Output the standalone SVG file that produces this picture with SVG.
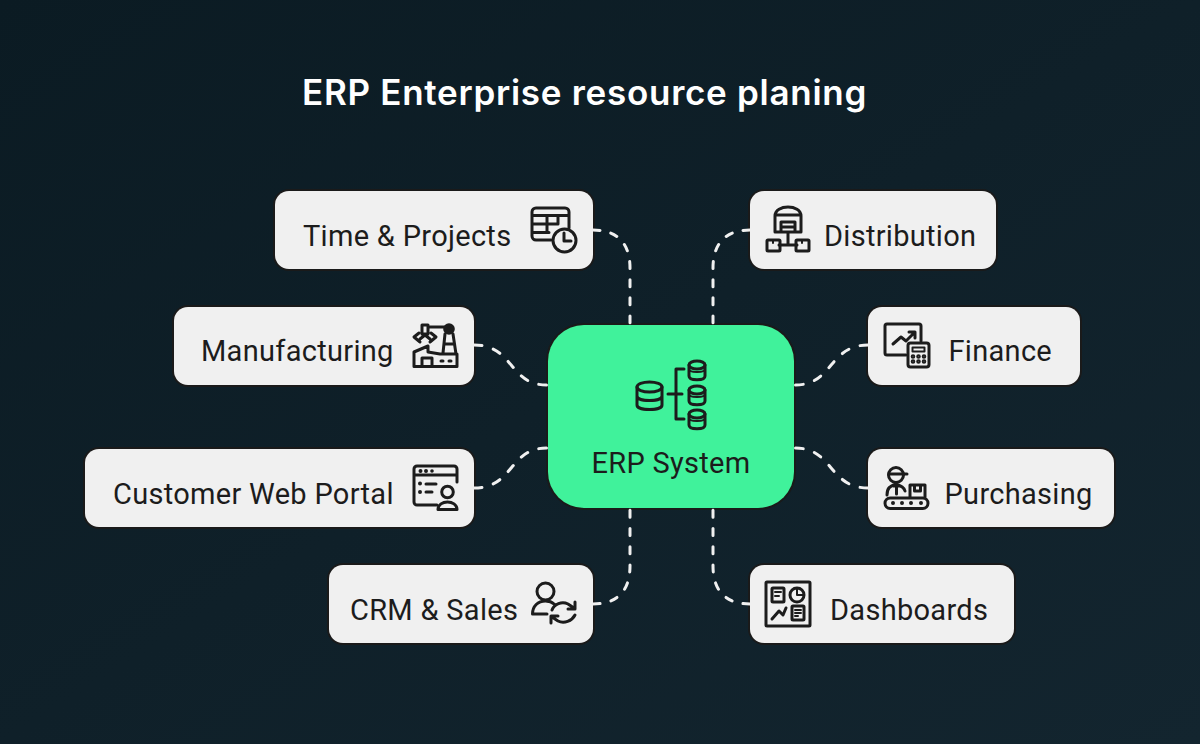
<svg xmlns="http://www.w3.org/2000/svg" width="1200" height="744" viewBox="0 0 1200 744">
<defs>
<linearGradient id="bg" x1="0" y1="0" x2="1" y2="1"><stop offset="0" stop-color="#0b1b23"/><stop offset="1" stop-color="#13252f"/></linearGradient>
<style>
.box{fill:#f0f0f0;stroke:#1a1a1a;stroke-width:4;paint-order:stroke}
.lbl{font-family:Roboto,"Liberation Sans",sans-serif;font-size:29px;fill:#1c1c1c;letter-spacing:.3px}
.c{fill:none;stroke:#f0f0f0;stroke-width:3;stroke-linecap:round}
.l{stroke-dasharray:7 11.300}
.s{stroke-dasharray:8 11.800}
.i{fill:none;stroke:#1c1c1c;stroke-width:3;stroke-linecap:round;stroke-linejoin:round}
.t{stroke-width:2}
.f{fill:#1c1c1c;stroke:none}
</style>
</defs>
<rect width="1200" height="744" fill="url(#bg)"/>
<text id="title" x="302" y="104.500" font-family="Inter,'Open Sans',sans-serif" font-weight="600" font-size="35" letter-spacing=".72" fill="#fff">ERP Enterprise resource planing</text>
<g id="node-time">
<rect class="box" x="275" y="191" width="318" height="78" rx="14"/>
<text class="lbl" x="303" y="246">Time &amp; Projects</text>
<path class="i" d="M551 240H536a4 4 0 0 1-4-4V212a4 4 0 0 1 4-4H565a4 4 0 0 1 4 4V228M532 215.500H569M532 224H558M532 232.500H549M547 215.500V232M558 215.500V224"/>
<circle class="i" cx="564.500" cy="240.500" r="11.500"/><path class="i" d="M564 233V241H571"/>
</g>
<g id="node-manufacturing">
<rect class="box" x="174" y="307" width="300" height="78" rx="14"/>
<text class="lbl" x="201" y="361">Manufacturing</text>
<circle class="f" cx="449" cy="329" r="5.800"/>
<path class="i" d="M430 327H449M422 325H428V334H422ZM419 333L414 337L420 342M431 333L436 337L430 342M425 335L420 339M425 335L430 339M445 334L443 353M453 334L456 354M444 344H454M414 366.500V352L428 346V352L440 354H457V366.500ZM422 366.500V358H432V366.500"/>
<path class="i" stroke-width="2.500" d="M441 361H443M449 361H451"/>
</g>
<g id="node-portal">
<rect class="box" x="85" y="449" width="389" height="78" rx="14"/>
<text class="lbl" x="113" y="504">Customer Web Portal</text>
<path class="i" d="M457 482V469a3 3 0 0 0-3-3H417a3 3 0 0 0-3 3V502a3 3 0 0 0 3 3H437M414 475H457M426 484H436M426 492H432"/>
<g class="i t"><circle cx="420.500" cy="471" r="1"/><circle cx="426" cy="471" r="1"/><circle cx="420" cy="483.500" r="1"/><circle cx="420" cy="492" r="1"/></g>
<circle class="f" cx="432" cy="471" r="1.800"/>
<circle class="i" cx="447.500" cy="492" r="5.800"/><path class="i" d="M438 509.500C438 499.500 457 499.500 457 509.500Z"/>
</g>
<g id="node-crm">
<rect class="box" x="329" y="565" width="264" height="78" rx="14"/>
<text class="lbl" x="350" y="620">CRM &amp; Sales</text>
<circle class="i" cx="545.500" cy="591.500" r="8.500"/>
<path class="i" d="M532.500 614C532.500 606 538 601 545.500 601C549 601 552 602 554 604M532.500 614H547M552 610C554 604 562 601 568 604L574 608M575 602V609H568M575 615C572 621 564 624 558 621L552 617M551 623V616H558"/>
</g>
<g id="node-distribution">
<rect class="box" x="750" y="191" width="246" height="78" rx="14"/>
<text class="lbl" x="824" y="246">Distribution</text>
<path class="i" d="M775 232V216C775 204 801 204 801 216V232ZM775 215H801M781 232V222H795V232M781 227H795M788 232V245M779 245H797"/>
<rect class="i" x="767" y="240" width="13" height="11" rx="1"/><rect class="i" x="796" y="240" width="13" height="11" rx="1"/>
<path class="i t" d="M773 240V243M802 240V243"/>
</g>
<g id="node-finance">
<rect class="box" x="868" y="307" width="212" height="78" rx="14"/>
<text class="lbl" x="948.500" y="361">Finance</text>
<path class="i" d="M906 355H887a2 2 0 0 1-2-2V326a2 2 0 0 1 2-2H919a2 2 0 0 1 2 2V341M893 344L901 337L906 341L914 333M909 332H915V338"/>
<rect class="i" x="908" y="343" width="21" height="24" rx="2.500"/>
<rect class="i t" x="912.500" y="347.500" width="12" height="4"/>
<g class="i t" stroke-width="1.500"><circle cx="913" cy="356.500" r="1.300"/><circle cx="918.500" cy="356.500" r="1.300"/><circle cx="924" cy="356.500" r="1.300"/><circle cx="913" cy="361.500" r="1.300"/><circle cx="918.500" cy="361.500" r="1.300"/><circle cx="924" cy="361.500" r="1.300"/></g>
</g>
<g id="node-purchasing">
<rect class="box" x="868" y="449" width="246" height="78" rx="14"/>
<text class="lbl" x="944.500" y="504">Purchasing</text>
<circle class="i" cx="896" cy="475" r="7.500"/>
<path class="i" d="M889 474H907M887 495C887 488 890 486 896 484C901 486 904 487 905 491M896.500 486V494M893.500 486H899.500"/>
<path class="i" d="M910 497V485H925V497M914.500 485V491H920.500V485"/>
<rect class="i" x="885" y="498" width="43" height="10.500" rx="5.200"/>
<g class="i t"><circle cx="893" cy="503" r="1"/><circle cx="902" cy="503" r="1"/><circle cx="911" cy="503" r="1"/><circle cx="921" cy="503" r="1"/></g>
</g>
<g id="node-dashboards">
<rect class="box" x="750" y="565" width="264" height="78" rx="14"/>
<text class="lbl" x="830" y="620">Dashboards</text>
<rect class="i" x="766" y="582" width="44" height="44" rx="1"/>
<rect class="i" x="772" y="588" width="12" height="14" rx="1"/>
<circle class="i" cx="797" cy="595" r="7"/><path class="i t" d="M797 595V588M797 595H804"/>
<path class="i" d="M772 619L779 611L783 615L786 608"/>
<rect class="i" x="792" y="606" width="12" height="14" rx="1"/>
<path class="i t" d="M775 592H781M775 596H779M795 610H801M795 613H801M795 616H798"/>
</g>
<g id="node-erp">
<rect x="548" y="325" width="246" height="183" rx="36" fill="#40f29b" stroke="#1a1a1a" stroke-width="4" paint-order="stroke"/>
<g class="i">
<path d="M637 387V405C637 411 662 411 662 405V387M637 396C637 402 662 402 662 396"/><ellipse cx="649.500" cy="387" rx="12.500" ry="5"/>
<path d="M668 394H682M684 369H676V419H684"/>
<path d="M689 365V376C689 381 705 381 705 376V365"/><ellipse cx="697" cy="365" rx="8" ry="4"/><path d="M689 369C689 373 705 373 705 369" stroke-width="2"/>
<path d="M689 390V401C689 406 705 406 705 401V390"/><ellipse cx="697" cy="390" rx="8" ry="4"/><path d="M689 394C689 398 705 398 705 394" stroke-width="2"/>
<path d="M689 414V425C689 430 705 430 705 425V414"/><ellipse cx="697" cy="414" rx="8" ry="4"/><path d="M689 418C689 422 705 422 705 418" stroke-width="2"/>
</g>
<text class="lbl" x="671" y="473" text-anchor="middle">ERP System</text>
</g>
<g id="connectors">
<path class="c l" pathLength="117" d="M593 230C618 230 630 244 630 268V323"/>
<path class="c s" pathLength="87" d="M474 345C514 345 509 385 546.500 385"/>
<path class="c s" pathLength="87" d="M474 488C514 488 509 448 546.500 448"/>
<path class="c l" pathLength="117" d="M593 604C618 604 630 590 630 566V510"/>
<path class="c l" pathLength="117" d="M750 230C725 230 713 244 713 268V323"/>
<path class="c s" pathLength="87" d="M868 345C829 345 833 385 795.500 385"/>
<path class="c s" pathLength="87" d="M868 488C829 488 833 448 795.500 448"/>
<path class="c l" pathLength="117" d="M750 604C725 604 713 590 713 566V510"/>
</g>
</svg>
